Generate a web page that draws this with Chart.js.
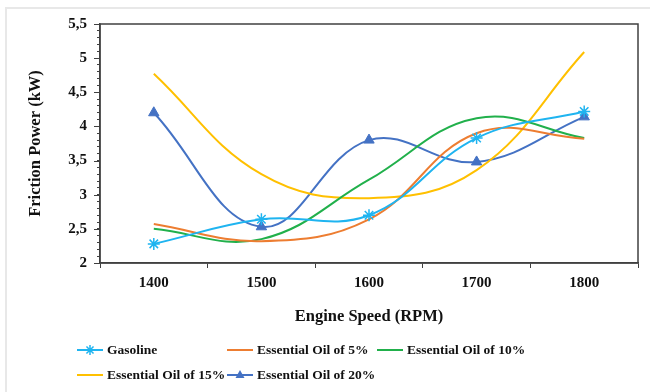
<!DOCTYPE html>
<html>
<head>
<meta charset="utf-8">
<script src="https://cdn.jsdelivr.net/npm/chart.js@4.4.1/dist/chart.umd.min.js"></script>
<style>
  html, body { margin: 0; padding: 0; background: #fff; }
  #wrap { position: relative; width: 650px; height: 392px; overflow: hidden; }
  #frame { position: absolute; left: 5px; top: 7px; width: 700px; height: 500px;
           border-left: 2px solid #e8e8e8; border-top: 2px solid #e8e8e8; }
  canvas { position: absolute; left: 0; top: 0; }
</style>
</head>
<body>
<div id="wrap"><div id="frame"></div><canvas id="myChart" width="650" height="392"></canvas></div>
<script>
const speeds = ['1400', '1500', '1600', '1700', '1800'];
const gasoline = [2.28, 2.64, 2.70, 3.83, 4.22];
const oil5 = [2.57, 2.32, 2.64, 3.90, 3.82];
const oil10 = [2.50, 2.35, 3.22, 4.12, 3.83];
const oil15 = [4.77, 3.30, 2.95, 3.36, 5.09];
const oil20 = [4.20, 2.53, 3.80, 3.48, 4.14];
const yMajor = [2, 2.5, 3, 3.5, 4, 4.5, 5, 5.5];

const serif = "'Liberation Serif', 'Times New Roman', serif";
const axisColor = '#404040';
const textColor = '#111';

const colorCyan = '#1fb4f0';
const colorOrange = '#ed7d31';
const colorGreen = '#21b04b';
const colorYellow = '#ffc000';
const colorBlue = '#4472c4';

const makeSet = (label, data, color, pointStyle) => ({
  label: label,
  data: data,
  borderColor: color,
  backgroundColor: color,
  borderWidth: 2,
  tension: 0.4,
  pointStyle: pointStyle || 'circle',
  pointRadius: pointStyle ? 6 : 0,
  pointBorderWidth: pointStyle === 'star' ? 1.5 : 1,
});

const datasets = [
  makeSet('Gasoline', gasoline, colorCyan, 'star'),
  makeSet('Essential Oil of 5%', oil5, colorOrange),
  makeSet('Essential Oil of 10%', oil10, colorGreen),
  makeSet('Essential Oil of 15%', oil15, colorYellow),
  makeSet('Essential Oil of 20%', oil20, colorBlue, 'triangle'),
];

// frame round the plot + longer major ticks on y
const framePlugin = {
  id: 'frame',
  afterDraw(chart) {
    const { ctx, chartArea: a } = chart;
    const y = chart.scales.y;
    ctx.save();
    ctx.strokeStyle = axisColor;
    ctx.lineWidth = 1.5;
    ctx.strokeRect(a.left, a.top, a.right - a.left, a.bottom - a.top);
    ctx.lineWidth = 1;
    yMajor.forEach((v) => {
      const py = Math.round(y.getPixelForValue(v)) + 0.5;
      ctx.beginPath();
      ctx.moveTo(a.left - 6, py);
      ctx.lineTo(a.left, py);
      ctx.stroke();
    });
    ctx.restore();
  },
};

// Excel style legend: fixed columns, two rows
const legendPlugin = {
  id: 'xlLegend',
  afterDraw(chart) {
    const { ctx } = chart;
    const cols = [77, 227, 377];
    const rows = [350, 375];
    ctx.save();
    ctx.font = 'bold 13.5px ' + serif;
    ctx.textBaseline = 'middle';
    chart.data.datasets.forEach((ds, i) => {
      const x = cols[i % 3];
      const y = rows[Math.floor(i / 3)];
      ctx.strokeStyle = ds.borderColor;
      ctx.fillStyle = ds.borderColor;
      ctx.lineWidth = 2;
      ctx.beginPath();
      ctx.moveTo(x, y);
      ctx.lineTo(x + 26, y);
      ctx.stroke();
      const cx = x + 13;
      if (ds.pointStyle === 'star') {
        ctx.lineWidth = 1.5;
        ctx.beginPath();
        for (let k = 0; k < 4; k++) {
          const ang = k * Math.PI / 4;
          ctx.moveTo(cx - 5 * Math.cos(ang), y - 5 * Math.sin(ang));
          ctx.lineTo(cx + 5 * Math.cos(ang), y + 5 * Math.sin(ang));
        }
        ctx.stroke();
      } else if (ds.pointStyle === 'triangle') {
        ctx.beginPath();
        ctx.moveTo(cx, y - 5);
        ctx.lineTo(cx + 4.5, y + 3);
        ctx.lineTo(cx - 4.5, y + 3);
        ctx.closePath();
        ctx.fill();
      }
      ctx.fillStyle = textColor;
      ctx.fillText(ds.label, x + 30, y + 1);
    });
    ctx.restore();
  },
};

const config = {
  type: 'line',
  data: { labels: speeds, datasets: datasets },
  options: {
    responsive: false,
    animation: false,
    layout: { padding: { left: 0, right: 12, top: 24, bottom: 59 } },
    scales: {
      x: {
        offset: true,
        afterFit: (s) => { s.height = 70; },
        border: { color: axisColor, width: 1.5 },
        grid: { offset: true, drawOnChartArea: false, tickLength: 5, color: axisColor },
        ticks: { color: textColor, font: { family: serif, size: 15, weight: 'bold' }, padding: 6, maxRotation: 0 },
        title: {
          display: true,
          text: 'Engine Speed (RPM)',
          color: textColor,
          font: { family: serif, size: 16.5, weight: 'bold' },
          padding: { top: 0, bottom: 6 },
        },
      },
      y: {
        min: yMajor[0],
        max: yMajor[yMajor.length - 1],
        afterFit: (s) => { s.width = 100; },
        border: { color: axisColor, width: 1.5 },
        grid: { drawOnChartArea: false, tickLength: 3, color: axisColor },
        ticks: {
          stepSize: 0.1,
          autoSkip: false,
          padding: 10,
          color: textColor,
          font: { family: serif, size: 15, weight: 'bold' },
          callback: (v) => {
            const r = Math.round(v * 2) / 2;
            return Math.abs(v - r) < 1e-6 ? String(r).replace('.', ',') : '';
          },
        },
        title: {
          display: true,
          text: 'Friction Power (kW)',
          color: textColor,
          font: { family: serif, size: 16.5, weight: 'bold' },
          padding: { top: 26, bottom: 0 },
        },
      },
    },
    plugins: {
      legend: { display: false },
      tooltip: { enabled: false },
    },
  },
  plugins: [framePlugin, legendPlugin],
};

new Chart(document.getElementById('myChart'), config);
</script>
</body>
</html>
